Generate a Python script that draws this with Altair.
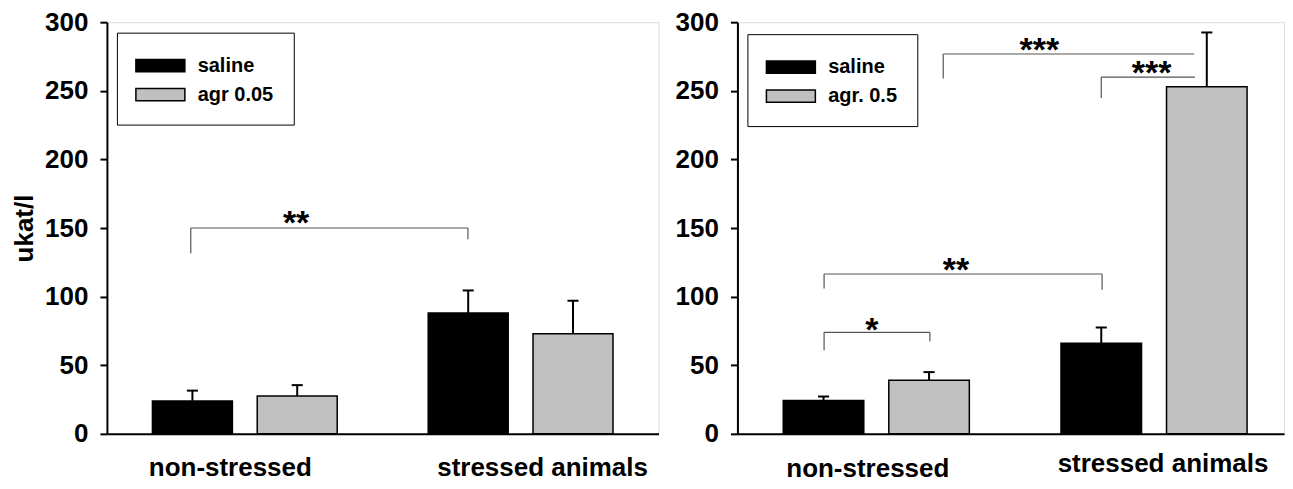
import altair as alt
import pandas as pd

FONT = "Liberation Sans"

groups = ["non-stressed", "stressed animals"]

# left panel
left_series = ["saline", "agr 0.05"]
left_means = [24.0, 27.5, 88.0, 73.0]       # order: (g1,s1),(g1,s2),(g2,s1),(g2,s2)
left_tops = [31.5, 35.5, 104.5, 97.0]

# right panel
right_series = ["saline", "agr. 0.5"]
right_means = [24.3, 39.0, 66.0, 253.0]
right_tops = [27.2, 45.0, 77.5, 292.5]

# significance brackets (x in group units, y in ukat/l)
left_br_x1 = [0.304]
left_br_x2 = [1.309]
left_br_y = [150.0]
left_br_leg1 = [131.6]
left_br_leg2 = [141.8]
left_br_label = ["**"]
left_br_lx = [0.686]
left_br_ly = [146.0]

right_br_x1 = [0.312, 0.312, 0.741, 1.31]
right_br_x2 = [0.693, 1.313, 1.645, 1.647]
right_br_y = [74.0, 116.5, 276.8, 260.0]
right_br_leg1 = [61.0, 106.0, 259.0, 244.8]
right_br_leg2 = [67.5, 105.0, None, None]
right_br_label = ["*", "**", "***", "***"]
right_br_lx = [0.484, 0.787, 1.087, 1.491]
right_br_ly = [67.7, 111.5, 271.5, 255.0]

y_ticks = [0, 50, 100, 150, 200, 250, 300]

# layout of bars inside a group (in group units, one group = 1)
SERIES_OFFSET = 0.19
BAR_HALF = 0.145
CAP_HALF = 0.02


def make_panel(series, means, tops, bx1, bx2, by, bl1, bl2, blab, blx, bly,
               width, height, xmax, ytitle, off_ns, off_st, pad_ns, pad_st, legend_y):
    rows = []
    k = 0
    for gi, g in enumerate(groups):
        for si, s in enumerate(series):
            c = gi + 0.5 + (si - 0.5) * 2 * SERIES_OFFSET
            rows.append({"group": g, "series": s, "value": means[k], "top": tops[k],
                         "c": c, "lo": c - BAR_HALF, "hi": c + BAR_HALF,
                         "clo": c - CAP_HALF, "chi": c + CAP_HALF})
            k += 1
    df = pd.DataFrame(rows)

    hor = pd.DataFrame({"x1": bx1, "x2": bx2, "y": by})
    legs = []
    for i in range(len(bx1)):
        if bl1[i] is not None:
            legs.append({"x": bx1[i], "y1": by[i], "y2": bl1[i]})
        if bl2[i] is not None:
            legs.append({"x": bx2[i], "y1": by[i], "y2": bl2[i]})
    legs = pd.DataFrame(legs)
    labs = pd.DataFrame({"x": blx, "y": bly, "t": blab})

    yscale = alt.Scale(domain=[0, 300], nice=False, zero=True)
    yaxis_kw = dict(values=y_ticks, grid=False, tickSize=7, tickWidth=2, tickColor="black",
                    domainWidth=2, domainColor="black", labelFontSize=26, labelFont=FONT,
                    labelFontWeight="bold", labelColor="black", labelPadding=12,
                    labelFlush=False, labelOverlap=False)
    if ytitle:
        yaxis = alt.Axis(title=ytitle, titleFontSize=26, titleFont=FONT, titleFontWeight="bold",
                         titleColor="black", titlePadding=7, **yaxis_kw)
    else:
        yaxis = alt.Axis(title=None, **yaxis_kw)

    xscale = alt.Scale(domain=[0, xmax], nice=False, zero=False)
    xaxis = alt.Axis(title=None, ticks=False, grid=False, domain=True, domainColor="black",
                     domainWidth=2, values=[0.5, 1.5],
                     labelExpr="datum.value < 1 ? 'non-stressed' : 'stressed animals'",
                     labelFontSize=26, labelFont=FONT, labelFontWeight="bold", labelColor="black",
                     labelAngle=0, labelLimit=0, labelFlush=False, labelOverlap=False,
                     labelOffset={"condition": {"test": "datum.value < 1", "value": off_ns},
                                  "value": off_st},
                     labelPadding={"condition": {"test": "datum.value < 1", "value": pad_ns},
                                   "value": pad_st})

    base = alt.Chart(df)
    bars = base.mark_bar(stroke="black", strokeWidth=1.5, opacity=1).encode(
        x=alt.X("lo:Q", scale=xscale, axis=xaxis),
        x2="hi:Q",
        y=alt.Y("value:Q", scale=yscale, axis=yaxis),
        y2=alt.datum(0),
        color=alt.Color("series:N", scale=alt.Scale(domain=series, range=["#000000", "#c0c0c0"]),
                        legend=alt.Legend(orient="none", legendX=10, legendY=legend_y, title=None,
                                          symbolType="M-2,-0.5H2V0.5H-2Z", symbolSize=600,
                                          symbolOffset=10.5,
                                          symbolStrokeColor="black", symbolStrokeWidth=1.5,
                                          symbolOpacity=1,
                                          labelFontSize=20, labelFont=FONT, labelFontWeight="bold",
                                          labelColor="black", labelOffset=24.3, labelLimit=0,
                                          padding=20, rowPadding=6,
                                          strokeColor="black", fillColor="white")),
    )
    errs = base.mark_rule(color="black", strokeWidth=2).encode(
        x=alt.X("c:Q", scale=xscale, axis=xaxis),
        y=alt.Y("value:Q", scale=yscale, axis=yaxis),
        y2="top:Q",
    )
    caps = base.mark_rule(color="black", strokeWidth=2).encode(
        x=alt.X("clo:Q", scale=xscale, axis=xaxis),
        x2="chi:Q",
        y=alt.Y("top:Q", scale=yscale, axis=yaxis),
    )

    hl = alt.Chart(hor).mark_rule(color="#555555", strokeWidth=1.2).encode(
        x=alt.X("x1:Q", scale=xscale, axis=xaxis), x2="x2:Q",
        y=alt.Y("y:Q", scale=yscale, axis=yaxis))
    vl = alt.Chart(legs).mark_rule(color="#555555", strokeWidth=1.2).encode(
        x=alt.X("x:Q", scale=xscale, axis=xaxis),
        y=alt.Y("y1:Q", scale=yscale, axis=yaxis), y2="y2:Q")
    tx = alt.Chart(labs).mark_text(font=FONT, fontSize=34, fontWeight="bold", color="black",
                                   align="center", baseline="alphabetic").encode(
        x=alt.X("x:Q", scale=xscale, axis=xaxis),
        y=alt.Y("y:Q", scale=yscale, axis=yaxis), text="t:N")

    return alt.layer(errs, caps, bars, hl, vl, tx).properties(width=width, height=height)


left = make_panel(left_series, left_means, left_tops, left_br_x1, left_br_x2, left_br_y,
                  left_br_leg1, left_br_leg2, left_br_label, left_br_lx, left_br_ly,
                  552, 412, 2.0, "ukat/l", -15, 21.5, 21, 21, 10.5)
right = make_panel(right_series, right_means, right_tops, right_br_x1, right_br_x2, right_br_y,
                   right_br_leg1, right_br_leg2, right_br_label, right_br_lx, right_br_ly,
                   547, 412, 1.968, None, -9, 8.5, 22, 17, 12)

chart = alt.hconcat(left, right, spacing=15).resolve_scale(color="independent").properties(
    padding={"left": 3, "top": 0, "right": 0, "bottom": 0}, background="white"
).configure_view(stroke="black", strokeWidth=2).configure(font=FONT)

chart.save("out.html", embed_options={"renderer": "svg", "actions": False})
